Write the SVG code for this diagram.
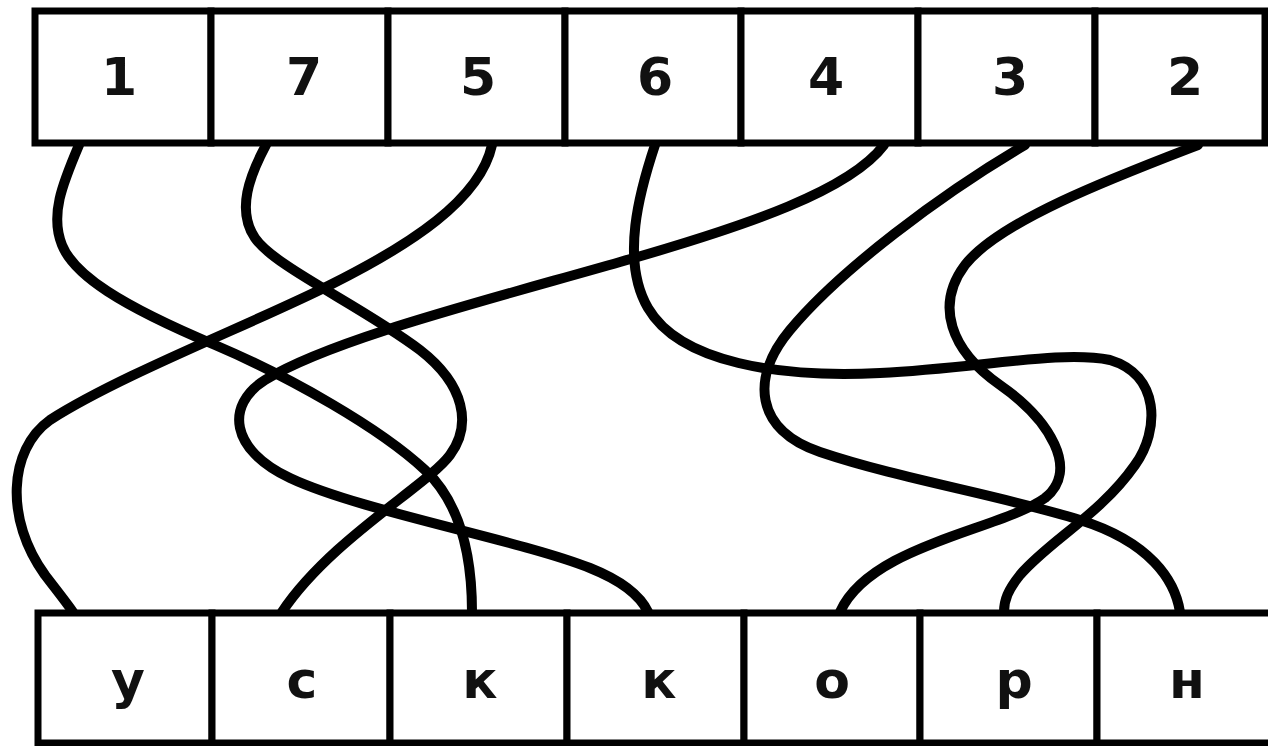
<svg xmlns="http://www.w3.org/2000/svg" width="1268" height="746" viewBox="0 0 1268 746">
<style>
.box{fill:#fff;stroke:#000;stroke-width:7}
.lbl{font-family:"DejaVu Sans","Liberation Sans",sans-serif;font-weight:bold;font-size:52px;fill:#111;text-anchor:middle}
.wire{fill:none;stroke:#000;stroke-width:10;stroke-linecap:round}
</style>
<rect width="1268" height="746" fill="#fff"/>
<g id="connectors">
<path class="wire" d="M79,145 C62,185 50,215 62,245 C74,275 120,305 215,345 C290,377 380,428 425,470 C455,498 472,545 472,612"/>
<path class="wire" d="M266,145 C250,175 236,210 255,238 C275,267 360,305 420,350 C465,385 472,425 450,455 C428,485 330,540 282,612"/>
<path class="wire" d="M492,145 C480,200 410,245 330,285 C250,325 120,375 50,420 C8,450 5,520 45,575 C58,592 66,602 73,612"/>
<path class="wire" d="M884,145 C850,190 750,225 620,262 C480,302 330,340 265,380 C225,405 230,450 290,478 C360,511 520,540 590,568 C620,580 640,595 648,612"/>
<path class="wire" d="M655,145 C640,190 620,260 648,308 C680,363 780,378 880,373 C980,368 1060,350 1110,360 C1160,375 1160,430 1135,465 C1100,515 1050,540 1020,575 C1008,590 1004,600 1004,612"/>
<path class="wire" d="M1025,145 C940,195 840,270 790,330 C750,378 755,430 820,452 C900,479 1000,495 1080,520 C1150,542 1175,580 1180,612"/>
<path class="wire" d="M1198,145 C1120,175 1000,220 965,265 C935,305 950,350 1000,385 C1050,420 1080,470 1045,498 C1000,530 870,545 840,612"/>
</g>
<g id="top-1"><rect class="box" x="35" y="11" width="176" height="132"/><text class="lbl" x="119" y="95">1</text></g>
<g id="top-7"><rect class="box" x="211" y="11" width="177" height="132"/><text class="lbl" x="304" y="95">7</text></g>
<g id="top-5"><rect class="box" x="388" y="11" width="177" height="132"/><text class="lbl" x="478" y="95">5</text></g>
<g id="top-6"><rect class="box" x="565" y="11" width="176" height="132"/><text class="lbl" x="655" y="95">6</text></g>
<g id="top-4"><rect class="box" x="741" y="11" width="177" height="132"/><text class="lbl" x="826" y="95">4</text></g>
<g id="top-3"><rect class="box" x="918" y="11" width="177" height="132"/><text class="lbl" x="1010" y="95">3</text></g>
<g id="top-2"><rect class="box" x="1095" y="11" width="170" height="132"/><text class="lbl" x="1185" y="95">2</text></g>
<g id="bot-u"><rect class="box" x="38" y="613" width="174" height="130"/><text class="lbl" x="128" y="698">у</text></g>
<g id="bot-s"><rect class="box" x="212" y="613" width="178" height="130"/><text class="lbl" x="302" y="698">с</text></g>
<g id="bot-k1"><rect class="box" x="390" y="613" width="177" height="130"/><text class="lbl" x="480" y="698">к</text></g>
<g id="bot-k2"><rect class="box" x="567" y="613" width="177" height="130"/><text class="lbl" x="659" y="698">к</text></g>
<g id="bot-o"><rect class="box" x="744" y="613" width="176" height="130"/><text class="lbl" x="832" y="698">о</text></g>
<g id="bot-r"><rect class="box" x="920" y="613" width="177" height="130"/><text class="lbl" x="1014" y="698">р</text></g>
<g id="bot-n"><rect class="box" x="1097" y="613" width="180" height="130"/><text class="lbl" x="1187" y="698">н</text></g>
</svg>
